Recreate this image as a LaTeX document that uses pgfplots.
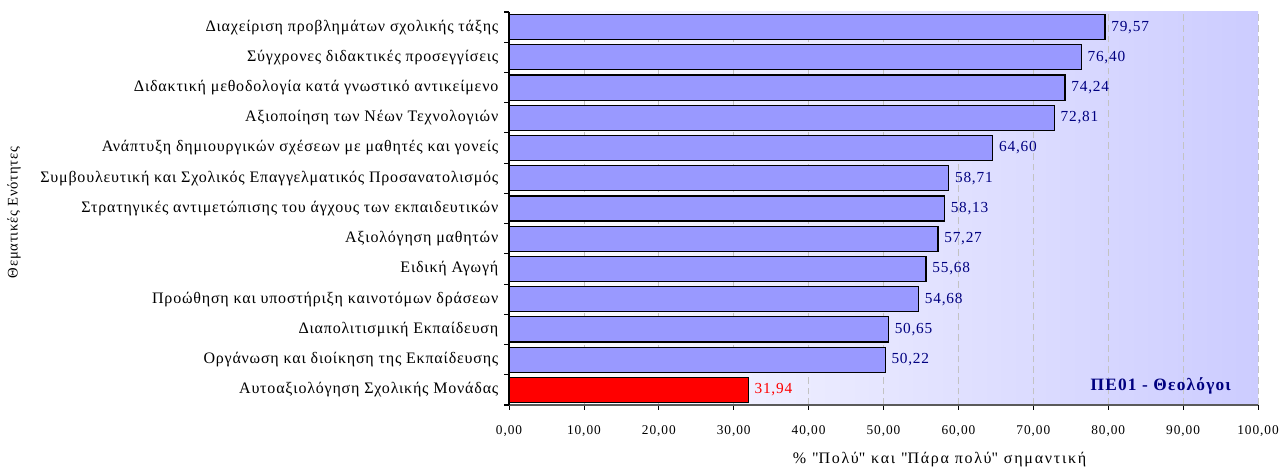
\documentclass[border=0pt]{standalone}
\usepackage{pgfplots}
\pgfplotsset{compat=1.18}
\usepackage{fontspec}
\setmainfont{Liberation Serif}[LetterSpace=5]
\definecolor{barblue}{RGB}{153,153,255}
\definecolor{lav}{RGB}{204,204,255}
\definecolor{navyt}{RGB}{0,0,128}
\definecolor{gridc}{RGB}{195,195,195}
\begin{document}
\begin{tikzpicture}
\path[use as bounding box] (0,0) rectangle (960pt,352.5pt);
\begin{axis}[
  at={(381.75pt,48.75pt)}, anchor=south west,
  scale only axis, width=561.75pt, height=294.75pt,
  xbar, bar width=0.83,
  xmin=0, xmax=100, ymin=-0.5, ymax=12.5,
  axis x line*=bottom, axis y line*=left,
  x axis line style={draw={rgb,255:red,90;green,90;blue,90}, line width=1.5pt},
  y axis line style={black, line width=0.8pt},
  axis background/.style={shade, left color=white, right color=lav},
  xtick={0,10,...,100},
  tick align=outside,
  major tick length=3.5pt,
  minor tick length=3.5pt,
  x tick style={black, line width=0.6pt},
  ytick={0,...,12},
  minor ytick={-0.5,0.5,...,12.5},
  major y tick style={draw=none},
  minor y tick style={black, line width=0.8pt},
  yticklabels={Αυτοαξιολόγηση Σχολικής Μονάδας,
    Οργάνωση και διοίκηση της Εκπαίδευσης,
    Διαπολιτισμική Εκπαίδευση,
    Προώθηση και υποστήριξη καινοτόμων δράσεων,
    Ειδική Αγωγή,
    Αξιολόγηση μαθητών,
    Στρατηγικές αντιμετώπισης του άγχους των εκπαιδευτικών,
    Συμβουλευτική και Σχολικός Επαγγελματικός Προσανατολισμός,
    Ανάπτυξη δημιουργικών σχέσεων με μαθητές και γονείς,
    Αξιοποίηση των Νέων Τεχνολογιών,
    Διδακτική μεθοδολογία κατά γνωστικό αντικείμενο,
    Σύγχρονες διδακτικές προσεγγίσεις,
    Διαχείριση προβλημάτων σχολικής τάξης},
  yticklabel style={font=\fontsize{12}{14}\selectfont, xshift=-1pt},
  /pgf/number format/assume math mode=true,
  xticklabel style={font=\fontsize{10}{12}\selectfont\addfontfeatures{LetterSpace=7}, yshift=-8.5pt, /pgf/number format/.cd, fixed, fixed zerofill, precision=2, use comma},
  scaled x ticks=false,
  xmajorgrids,
  major x grid style={gridc, dash pattern=on 5pt off 3pt, line width=0.6pt},
  xlabel={\% \textquotedbl Πολύ\textquotedbl{} και \textquotedbl Πάρα πολύ\textquotedbl{} σημαντική},
  xlabel style={font=\fontsize{12}{14}\selectfont\addfontfeatures{LetterSpace=11}, at={(axis description cs:0.575,-0.14)}, anchor=center},
  ylabel={Θεματικές Ενότητες},
  ylabel style={font=\fontsize{11}{13}\selectfont, at={(axis description cs:-0.661,0.49)}, anchor=center, rotate=0},
  point meta=x,
  nodes near coords={\pgfmathprintnumber[fixed,fixed zerofill,precision=2,use comma,assume math mode=true]{\pgfplotspointmeta}},
  nodes near coords style={font=\fontsize{11.5}{13}\selectfont, anchor=west, xshift=1pt},
]
\addplot[fill=barblue, draw=black, line width=0.9pt, bar shift=0pt, nodes near coords style={text=navyt}]
  coordinates {(50.22,1) (50.65,2) (54.68,3) (55.68,4) (57.27,5) (58.13,6)
    (58.71,7) (64.60,8) (72.81,9) (74.24,10) (76.40,11) (79.57,12)};
\addplot[fill=red, draw=black, line width=0.9pt, bar shift=0pt, nodes near coords style={text=red}]
  coordinates {(31.94,0)};
\node[anchor=east, font=\bfseries\fontsize{13}{15}\selectfont\addfontfeatures{LetterSpace=7}, text=navyt] at (axis cs:97,0.12) {ΠΕ01 - Θεολόγοι};
\end{axis}
\end{tikzpicture}
\end{document}
